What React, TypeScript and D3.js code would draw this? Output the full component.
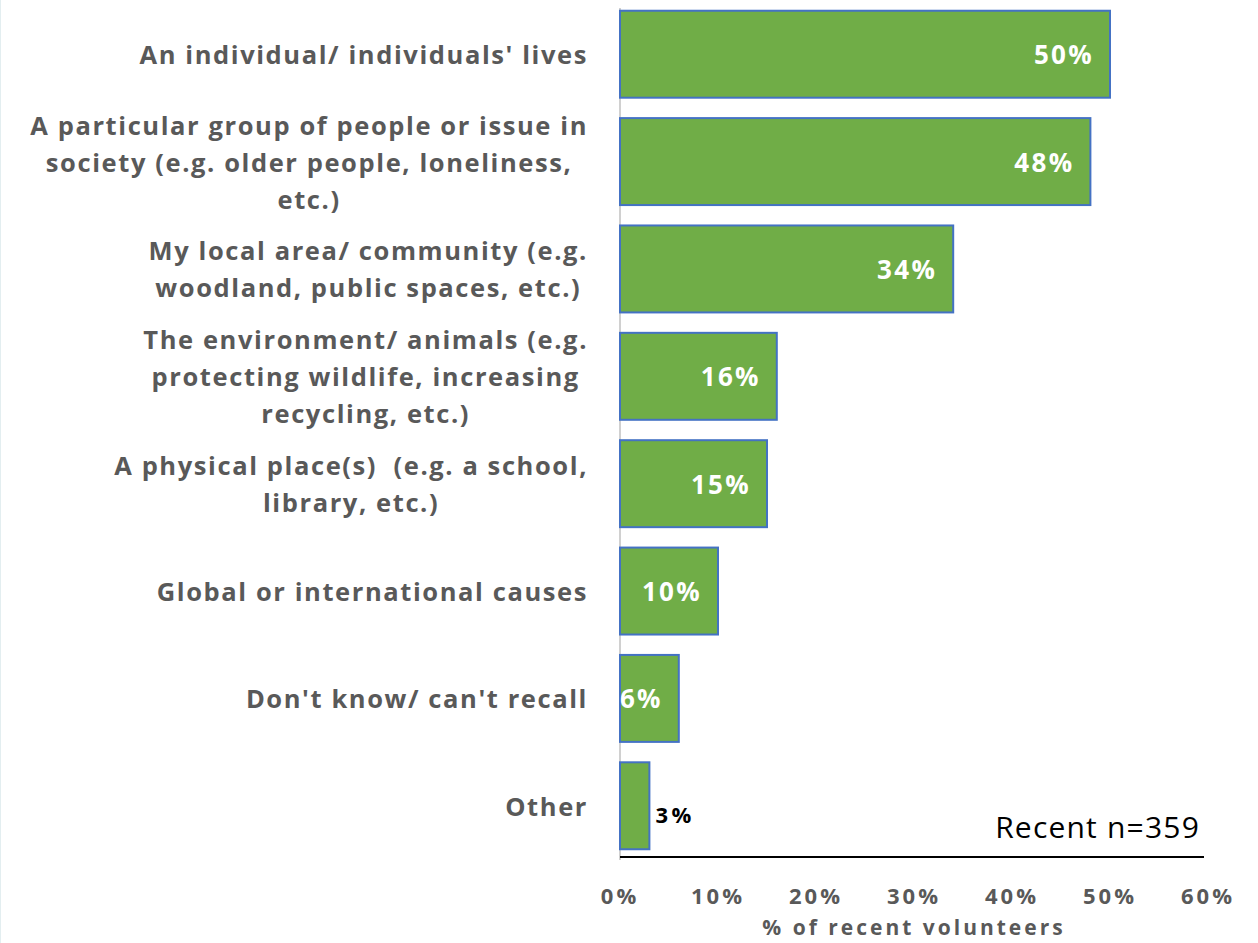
import React from "react";
import * as d3 from "d3";

const categories: string[][] = [
  ["An individual/ individuals' lives"],
  ["A particular group of people or issue in", "society (e.g. older people, loneliness,", "etc.)"],
  ["My local area/ community (e.g.", "woodland, public spaces, etc.)"],
  ["The environment/ animals (e.g.", "protecting wildlife, increasing", "recycling, etc.)"],
  ["A physical place(s)  (e.g. a school,", "library, etc.)"],
  ["Global or international causes"],
  ["Don't know/ can't recall"],
  ["Other"],
];
const values: number[] = [50, 48, 34, 16, 15, 10, 6, 3];
const xTicks: number[] = [0, 10, 20, 30, 40, 50, 60];
const sampleNote = "Recent n=359";
const axisTitle = "% of recent volunteers";

const W = 1258;
const H = 943;
const FONT = "'Open Sans', sans-serif";
const LABEL_SIZE = 25.5;
const LABEL_LS = 1.6;

function measure(text: string, size: number, ls: number, weight = "bold"): number {
  const c = document.createElement("canvas").getContext("2d");
  if (!c) return text.length * (size * 0.55 + ls);
  c.font = `${weight} ${size}px 'Open Sans'`;
  return c.measureText(text).width + text.length * ls;
}

export default function App() {
  const x = d3.scaleLinear().domain([0, 60]).range([620, 1208]);
  const y = d3
    .scaleBand<number>()
    .domain(d3.range(categories.length))
    .range([0, 860])
    .paddingInner(0.19)
    .paddingOuter(0.1);
  const labelRight = 588;
  const lineH = 37;

  return (
    <svg width={W} height={H} style={{ position: "absolute", left: 0, top: 0, background: "#fff" }}>
      <line x1={0.5} y1={0} x2={0.5} y2={H} stroke="#e3eef0" />
      <line x1={620} y1={8} x2={620} y2={860} stroke="#d0d0d0" strokeWidth={2} />
      {values.map((v, i) => {
        const by = y(i)!;
        const bh = y.bandwidth();
        const inside = v >= 5;
        return (
          <g key={i}>
            <rect
              x={x(0)}
              y={by}
              width={x(v) - x(0)}
              height={bh}
              fill="#70ad47"
              stroke="#4472c4"
              strokeWidth={2}
            />
            {inside ? (
              <text
                x={x(v) - 16}
                y={by + bh / 2}
                textAnchor="end"
                dominantBaseline="central"
                fill="#fff"
                fontFamily={FONT}
                fontWeight="bold"
                fontSize={26}
                letterSpacing={2.3}
              >
                {v}%
              </text>
            ) : (
              <text
                x={x(v) + 6}
                y={by + bh / 2 + 8}
                textAnchor="start"
                dominantBaseline="central"
                fill="#000"
                fontFamily={FONT}
                fontWeight="bold"
                fontSize={22}
                letterSpacing={3.5}
              >
                {v}%
              </text>
            )}
          </g>
        );
      })}
      {categories.map((lines, i) => {
        const maxW = Math.max(...lines.map((l) => measure(l, LABEL_SIZE, LABEL_LS)));
        const cx = labelRight - maxW / 2;
        const cy = y(i)! + y.bandwidth() / 2;
        const y0 = cy - ((lines.length - 1) * lineH) / 2;
        return (
          <text
            key={i}
            textAnchor="middle"
            fill="#595959"
            fontFamily={FONT}
            fontWeight="bold"
            fontSize={LABEL_SIZE}
            letterSpacing={LABEL_LS}
            style={{ whiteSpace: "pre" }}
          >
            {lines.map((l, j) => (
              <tspan key={j} x={cx} y={y0 + j * lineH} dominantBaseline="central">
                {l}
              </tspan>
            ))}
          </text>
        );
      })}
      <line x1={620} y1={857} x2={1204} y2={857} stroke="#000" strokeWidth={2} />
      {xTicks.map((t) => (
        <text
          key={t}
          x={x(t)}
          y={895}
          textAnchor="middle"
          dominantBaseline="central"
          fill="#595959"
          fontFamily={FONT}
          fontWeight="bold"
          fontSize={22}
          letterSpacing={3}
        >
          {t}%
        </text>
      ))}
      <text
        x={914}
        y={927}
        textAnchor="middle"
        dominantBaseline="central"
        fill="#595959"
        fontFamily={FONT}
        fontWeight="bold"
        fontSize={21}
        letterSpacing={3}
      >
        {axisTitle}
      </text>
      <text
        x={1200}
        y={826}
        textAnchor="end"
        dominantBaseline="central"
        fill="#000"
        fontFamily={FONT}
        fontSize={30}
        letterSpacing={1.2}
      >
        {sampleNote}
      </text>
    </svg>
  );
}
